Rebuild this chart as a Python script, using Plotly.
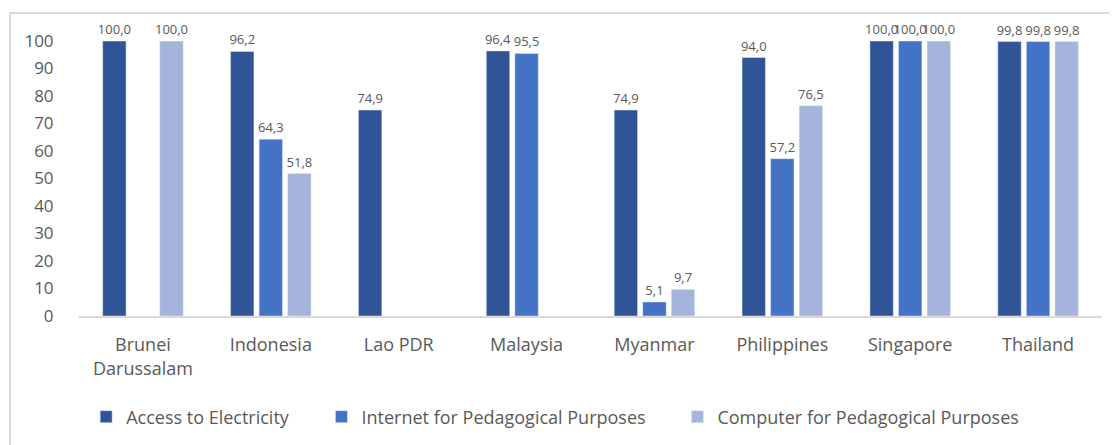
import plotly.graph_objects as go

countries = ["Brunei<br>Darussalam", "Indonesia", "Lao PDR", "Malaysia",
             "Myanmar", "Philippines", "Singapore", "Thailand"]
electricity = [100.0, 96.2, 74.9, 96.4, 74.9, 94.0, 100.0, 99.8]
internet = [None, 64.3, None, 95.5, 5.1, 57.2, 100.0, 99.8]
computer = [100.0, 51.8, None, None, 9.7, 76.5, 100.0, 99.8]

series = [
    ("Access to Electricity", electricity, "#2F5597", "legend", 0.007),
    ("Internet for Pedagogical Purposes", internet, "#4472C4", "legend2", 0.237),
    ("Computer for Pedagogical Purposes", computer, "#A5B4DB", "legend3", 0.585),
]

# the page body adds an 8px margin, so the figure is drawn 8px smaller
OFF = 8
W, H = 1117 - OFF, 445 - OFF
L, R, T, B = 79 - OFF, 15, 41 - OFF, 129
pw, ph = W - L - R, H - T - B

fig = go.Figure()
for name, vals, color, leg, lx in series:
    fig.add_trace(go.Bar(
        x=countries, y=vals, name=name, marker_color=color,
        texttemplate="%{y:.1f}", textposition="outside", cliponaxis=False,
        constraintext="none",
        textfont=dict(size=13, color="#595959", family="Open Sans"),
        legend=leg, showlegend=True,
    ))

leg_y = (H - B - (417 - OFF)) / ph
legend_style = dict(orientation="h", yanchor="middle", xanchor="left", y=leg_y,
                    font=dict(size=18, color="#595959", family="Open Sans"),
                    itemwidth=30, bgcolor="rgba(0,0,0,0)")
fig.update_layout(
    width=W, height=H,
    margin=dict(l=L, r=R, t=T, b=B, autoexpand=False),
    plot_bgcolor="white", paper_bgcolor="white",
    barmode="group", bargap=0.33, bargroupgap=0.18,
    separators=", ",
    legend=dict(x=series[0][4], **legend_style),
    legend2=dict(x=series[1][4], **legend_style),
    legend3=dict(x=series[2][4], **legend_style),
    xaxis=dict(showline=True, linecolor="#D9D9D9", linewidth=1.5,
               tickfont=dict(size=18, color="#595959", family="Open Sans"),
               ticks="outside", ticklen=12, tickcolor="rgba(0,0,0,0)",
               showgrid=False),
    yaxis=dict(range=[0, 100], dtick=10, showgrid=False, showline=False,
               zeroline=False, ticks="outside", ticklen=21,
               tickcolor="rgba(0,0,0,0)",
               tickfont=dict(size=17, color="#595959", family="Open Sans")),
)

# outer frame of the original figure (cut off at the right and bottom)
fig.add_shape(type="rect", xref="paper", yref="paper",
              x0=(10 - OFF - L) / pw, x1=(W + 10 - L) / pw,
              y0=(H - B - H - 10) / ph, y1=(H - B - (13 - OFF)) / ph,
              line=dict(color="#D9D9D9", width=2), layer="below")

fig.write_html("out.html")
